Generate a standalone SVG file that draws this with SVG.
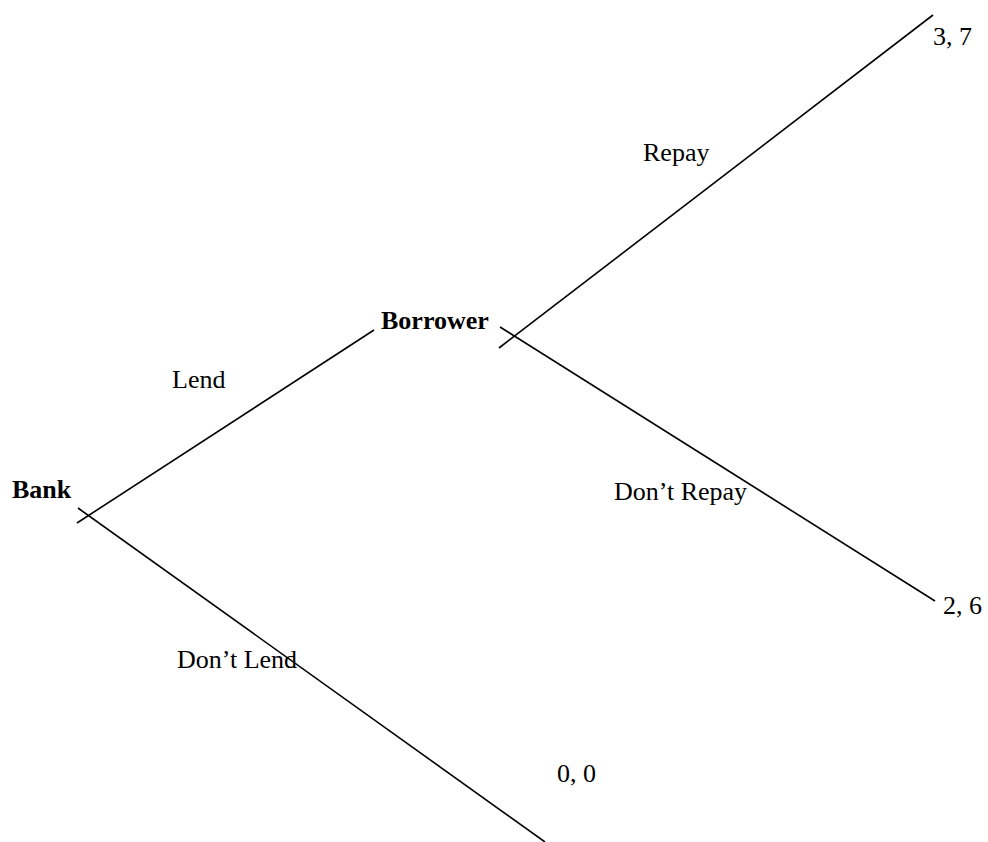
<svg xmlns="http://www.w3.org/2000/svg" width="988" height="842" viewBox="0 0 988 842">
<style>
text{font-family:"Liberation Serif","Times New Roman",serif;font-size:26px;fill:#000}
.b{font-weight:bold}
line{stroke:#000;stroke-width:1.6}
</style>
<rect width="988" height="842" fill="#fff"/>
<g id="connectors">
<line x1="77" y1="523" x2="374" y2="330"/>
<line x1="78" y1="508" x2="545" y2="842"/>
<line x1="499" y1="348" x2="933" y2="15"/>
<line x1="500" y1="327" x2="935" y2="601"/>
</g>
<g id="bank"><text class="b" x="12" y="498">Bank</text></g>
<g id="borrower"><text class="b" x="381" y="329">Borrower</text></g>
<g id="labels">
<text x="172" y="388">Lend</text>
<text x="177" y="668">Don’t Lend</text>
<text x="643" y="161">Repay</text>
<text x="614" y="500">Don’t Repay</text>
</g>
<g id="payoff37"><text x="933" y="45">3, 7</text></g>
<g id="payoff26"><text x="943" y="614">2, 6</text></g>
<g id="payoff00"><text x="557" y="782">0, 0</text></g>
</svg>
